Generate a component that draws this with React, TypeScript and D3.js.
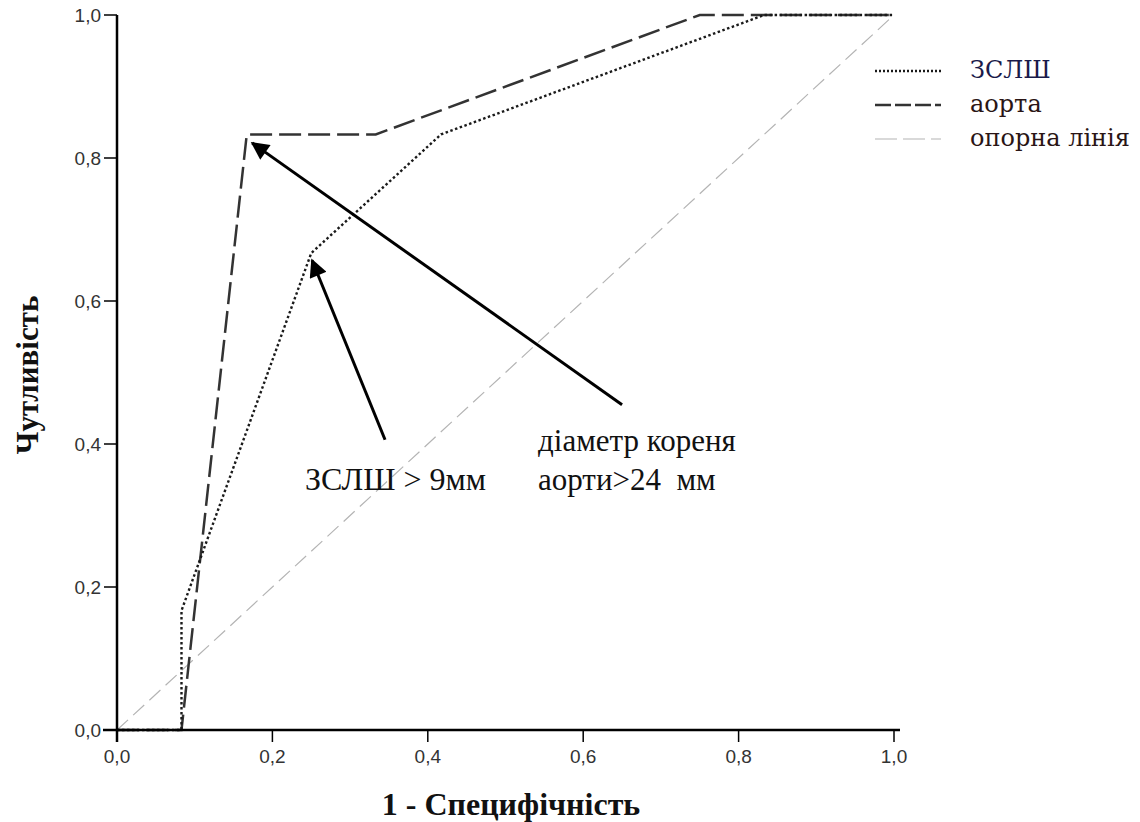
import React from 'react';
import * as d3 from 'd3';

// ROC points (1 - specificity, sensitivity)
const zslshX = [0, 0.083, 0.083, 0.25, 0.417, 0.833, 1];
const zslshY = [0, 0, 0.167, 0.667, 0.833, 1, 1];
const aortaX = [0, 0.083, 0.167, 0.333, 0.75, 1];
const aortaY = [0, 0, 0.833, 0.833, 1, 1];
const refX = [0, 1];
const refY = [0, 1];

const tickValues = [0, 0.2, 0.4, 0.6, 0.8, 1.0];
const tickLabels = ['0,0', '0,2', '0,4', '0,6', '0,8', '1,0'];

const legendLabels = ['ЗСЛШ', 'аорта', 'опорна лінія'];

// arrows: [tailX, tailY, tipX, tipY] in data units
const arrows = [
  [0.65, 0.455, 0.174, 0.821],
  [0.345, 0.406, 0.251, 0.657],
];

const W = 1140;
const H = 822;
const margin = { left: 117, right: 246, top: 15, bottom: 92 };

export default function App() {
  const x = d3.scaleLinear().domain([0, 1]).range([margin.left, W - margin.right]);
  const y = d3.scaleLinear().domain([0, 1]).range([H - margin.bottom, margin.top]);

  const line = d3.line<[number, number]>()
    .x((d) => x(d[0]))
    .y((d) => y(d[1]));

  const zip = (xs: number[], ys: number[]) => xs.map((v, i) => [v, ys[i]] as [number, number]);

  const series = [
    { name: legendLabels[0], pts: zip(zslshX, zslshY), stroke: '#1a1a1a', width: 2.4, dash: '2.5,2.5' },
    { name: legendLabels[1], pts: zip(aortaX, aortaY), stroke: '#333', width: 2.5, dash: '22,7' },
    { name: legendLabels[2], pts: zip(refX, refY), stroke: '#b4b4b4', width: 1.2, dash: '15,7' },
  ];

  const x0 = x(0);
  const y0 = y(0);
  const tickFont = '"Liberation Sans", Arial, sans-serif';
  const serif = '"Liberation Serif", "Times New Roman", serif';

  return (
    <svg width={W} height={H} style={{ position: 'absolute', left: 0, top: 0, background: '#fff' }}>
      <defs>
        <marker id="arrowhead" viewBox="0 0 10 10" refX="9" refY="5" markerWidth="7" markerHeight="6"
          markerUnits="strokeWidth" orient="auto">
          <path d="M0,0 L10,5 L0,10 z" fill="#000" />
        </marker>
      </defs>

      {/* curves */}
      {series.slice().reverse().map((s) => (
        <path key={s.name} d={line(s.pts) || ''} fill="none" stroke={s.stroke}
          strokeWidth={s.width} strokeDasharray={s.dash} />
      ))}

      {/* axes */}
      <line x1={x0} x2={x0} y1={y(1)} y2={y0 + 12} stroke="#000" strokeWidth={2.5} />
      <line x1={x0 - 14} x2={x(1) + 6} y1={y0} y2={y0} stroke="#000" strokeWidth={2.5} />
      {tickValues.map((t, i) => (
        <g key={'y' + t}>
          <line x1={x0 - 13} x2={x0} y1={y(t)} y2={y(t)} stroke="#000" strokeWidth={1.5} />
          <text x={x0 - 16} y={y(t) + 7} textAnchor="end" fontFamily={tickFont} fontSize={19} fill="#333">
            {tickLabels[i]}
          </text>
        </g>
      ))}
      {tickValues.map((t, i) => (
        <g key={'x' + t}>
          <line x1={x(t)} x2={x(t)} y1={y0} y2={y0 + 12} stroke="#000" strokeWidth={1.5} />
          <text x={x(t)} y={y0 + 33} textAnchor="middle" fontFamily={tickFont} fontSize={19} fill="#333">
            {tickLabels[i]}
          </text>
        </g>
      ))}

      {/* axis titles */}
      <text x={511} y={815} textAnchor="middle" fontFamily={serif} fontWeight="bold" fontSize={32} fill="#111">
        1 - Специфічність
      </text>
      <text transform={`translate(38, 375) rotate(-90)`} textAnchor="middle" fontFamily={serif}
        fontWeight="bold" fontSize={31} fill="#111">
        Чутливість
      </text>

      {/* annotation arrows */}
      {arrows.map((a, i) => (
        <line key={'a' + i} x1={x(a[0])} y1={y(a[1])} x2={x(a[2])} y2={y(a[3])}
          stroke="#000" strokeWidth={3} markerEnd="url(#arrowhead)" />
      ))}
      <text x={305} y={490} fontFamily={serif} fontSize={32} fill="#111">ЗСЛШ &gt; 9мм</text>
      <text x={538} y={451} fontFamily={serif} fontSize={31} fill="#111">діаметр кореня</text>
      <text x={538} y={490} fontFamily={serif} fontSize={31} fill="#111" xmlSpace="preserve">аорти&gt;24  мм</text>

      {/* legend */}
      {series.map((s, i) => (
        <g key={'l' + i} transform={`translate(875, ${71 + i * 34})`}>
          <line x1={0} x2={66} y1={0} y2={0} stroke={s.stroke} strokeWidth={s.width}
            strokeDasharray={i === 1 ? '16,4' : i === 2 ? '22,6' : '2,2'} />
          <text x={95} y={7} fontFamily={'"DejaVu Serif", serif'} fontSize={24}
            fill={i === 0 ? '#1a1a4a' : '#2a1515'}>{s.name}</text>
        </g>
      ))}
    </svg>
  );
}
